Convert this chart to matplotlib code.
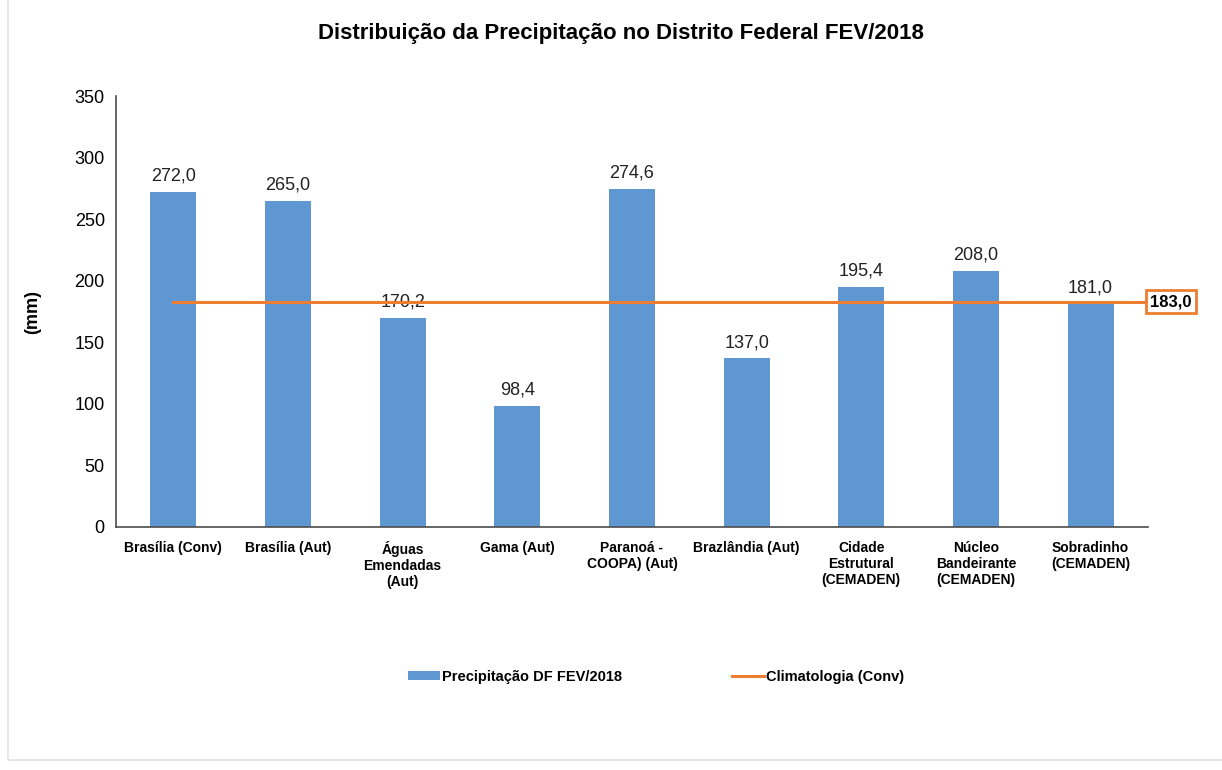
import matplotlib.pyplot as plt
from matplotlib.patches import Rectangle

plt.rcParams['font.family'] = ['Liberation Sans', 'DejaVu Sans']

estacoes = ["Brasília (Conv)", "Brasília (Aut)", "Águas\nEmendadas\n(Aut)", "Gama (Aut)",
            "Paranoá -\nCOOPA) (Aut)", "Brazlândia (Aut)", "Cidade\nEstrutural\n(CEMADEN)",
            "Núcleo\nBandeirante\n(CEMADEN)", "Sobradinho\n(CEMADEN)"]
precip = [272.0, 265.0, 170.2, 98.4, 274.6, 137.0, 195.4, 208.0, 181.0]
climatologia = 183.0
yticks = [0, 50, 100, 150, 200, 250, 300, 350]

fig = plt.figure(figsize=(12.22, 7.70), dpi=100)
ax = fig.add_axes([0.0949, 0.3156, 0.8445, 0.5594])

# moldura clara em volta do grafico
fig.patches.append(Rectangle((8 / 1222, 10 / 770), 1.0, 0.99, transform=fig.transFigure,
                             fill=False, edgecolor="#e3e3e3", linewidth=1.2))

x = list(range(len(estacoes)))
bars = ax.bar(x, precip, width=0.40, color="#5f97d3", label="Precipitação DF FEV/2018", zorder=2)
for xi, v in zip(x, precip):
    ax.text(xi, v + 6, f"{v:.1f}".replace(".", ","), ha="center", va="bottom", fontsize=13, color="#222222")

linha, = ax.plot([0, 8.5], [climatologia, climatologia], color="#ed7d31", linewidth=2.2,
                 label="Climatologia (Conv)", zorder=3)
ax.annotate(f"{climatologia:.1f}".replace(".", ","), xy=(8.5, climatologia), xytext=(8.52, climatologia),
            ha="left", va="center", fontsize=12, fontweight="bold", annotation_clip=False,
            bbox=dict(boxstyle="square,pad=0.25", fc="white", ec="#ed7d31", lw=2))

ax.set_xlim(-0.5, 8.5)
ax.set_ylim(0, 350)
ax.set_yticks(yticks)
ax.set_yticklabels([str(t) for t in yticks], fontsize=13)
ax.set_xticks(x)
ax.set_xticklabels(estacoes, fontsize=10, fontweight="bold", va="top", linespacing=1.2)
ax.tick_params(axis="both", length=0, pad=8)
ax.tick_params(axis="x", pad=10)
for s in ["top", "right"]:
    ax.spines[s].set_visible(False)
for s in ["left", "bottom"]:
    ax.spines[s].set_color("#4d4d4d")
    ax.spines[s].set_linewidth(1.2)

ax.set_ylabel("(mm)", fontsize=13, fontweight="bold", labelpad=24)
fig.suptitle("Distribuição da Precipitação no Distrito Federal FEV/2018", x=0.508, y=0.97,
             fontsize=16, fontweight="bold")

fig.legend(handles=[bars, linha], loc="center", bbox_to_anchor=(0.537, 0.121), ncol=2, frameon=False,
           prop=dict(size=10.5, weight="bold"), handlelength=2.2, handleheight=0.55,
           columnspacing=7.5, handletextpad=0.15)

fig.savefig("out.png", dpi=100)
